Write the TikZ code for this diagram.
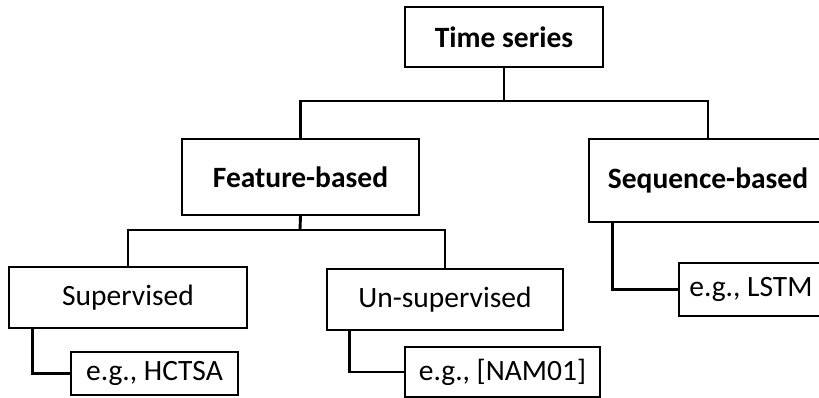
\documentclass[tikz,border=0pt]{standalone}
\usepackage{fontspec}
\setmainfont{Carlito}
\begin{document}
\begin{tikzpicture}[x=1pt,y=-1pt,
  box/.style={draw=black, line width=1.3pt, fill=white, inner sep=0pt, anchor=center,
    font=\fontsize{29.5}{34}\selectfont},
  bbox/.style={box, font=\fontsize{29.5}{34}\selectfont\bfseries},
  conn/.style={draw=black, line width=2.9pt, line join=miter}]
\clip (0,0) rectangle (819,398);
\fill[white] (0,0) rectangle (819,398);
\coordinate (j1) at (504,101);
\coordinate (j2) at (300,230);
% nodes
\node[bbox, minimum width=198pt, minimum height=60pt] (ts) at (504,37) {Time series};
\node[bbox, minimum width=237pt, minimum height=76pt] (fb) at (300.5,177) {Feature-based};
\node[bbox, minimum width=238pt, minimum height=83pt] (sb) at (708,180.5) {Sequence-based};
\node[box, minimum width=238pt, minimum height=61pt] (sup) at (128,297.5) {Supervised};
\node[box, minimum width=236pt, minimum height=61pt] (uns) at (445,299.5) {Un-supervised};
\node[box, minimum width=167pt, minimum height=43pt] (hc) at (154.5,373.5) {e.g., HCTSA};
\node[box, minimum width=195pt, minimum height=50pt] (nam) at (502.5,372) {e.g., [NAM01]};
\node[box, minimum width=144pt, minimum height=53pt] (lstm) at (751,289.5) {e.g., LSTM};
% connectors
\draw[conn] (ts.south) -- (j1);
\draw[conn] (fb.north) |- (j1) -| (sb.north);
\draw[conn] (fb.south) -- (j2);
\draw[conn] (sup.north) |- (j2) -| (uns.north);
\draw[conn] ([xshift=24pt]sup.south west) |- (hc.west);
\draw[conn] ([xshift=23pt]uns.south west) |- (nam.west);
\draw[conn] ([xshift=24pt]sb.south west) |- (lstm.west);
\end{tikzpicture}
\end{document}
